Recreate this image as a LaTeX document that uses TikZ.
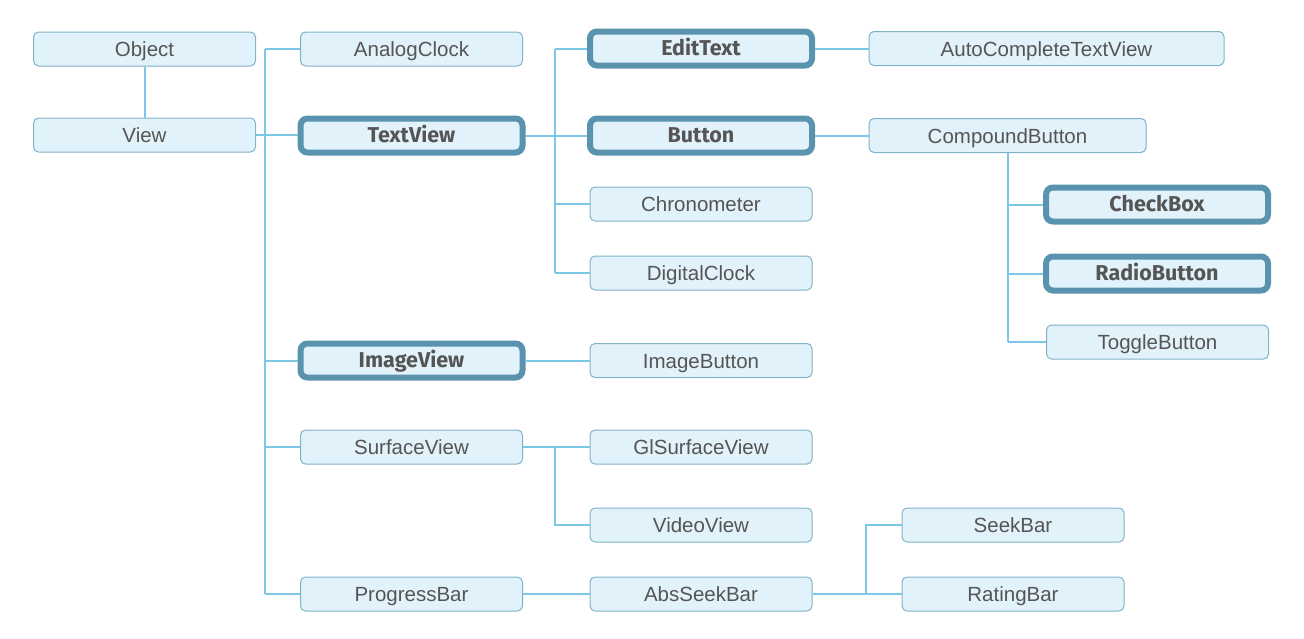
\documentclass[tikz,border=0pt]{standalone}
\usepackage{fontspec}
\setmainfont{Liberation Sans}
\newfontfamily\boldfam{Fira Sans}
\definecolor{boxfill}{HTML}{E2F2FA}
\definecolor{thinline}{HTML}{80B2C8}
\definecolor{thickline}{HTML}{5A93AE}
\definecolor{conn}{HTML}{7CC6E6}
\definecolor{txt}{HTML}{555555}
\begin{document}
\begin{tikzpicture}[x=1pt,y=-1pt,
  cls/.style={draw=thinline,line width=1pt,fill=boxfill,rounded corners=5pt,
    minimum width=222pt,minimum height=34pt,inner sep=0pt,text=txt,
    text height=17pt,text depth=2pt,
    font=\fontsize{20.5}{22}\selectfont},
  key/.style={cls,draw=thickline,line width=6pt,rounded corners=7pt,
    text height=17pt,text depth=3pt,
    font=\boldfam\bfseries\fontsize{21.5}{23}\selectfont},
  link/.style={draw=conn,line width=2pt}]
\useasboundingbox (0,0) rectangle (1304,638);
% nodes
\node[cls] (object) at (144.5,49) {Object};
\node[cls] (view) at (144.5,135) {View};
\node[cls] (analog) at (411.5,49) {AnalogClock};
\node[key] (textview) at (411.5,135.5) {TextView};
\node[key] (imageview) at (411.5,360.5) {ImageView};
\node[cls] (surface) at (411.5,447) {SurfaceView};
\node[cls] (progress) at (411.5,594) {ProgressBar};
\node[key] (edittext) at (701,48.5) {EditText};
\node[key] (button) at (701,135.5) {Button};
\node[cls] (chrono) at (701,204) {Chronometer};
\node[cls] (digital) at (701,273) {DigitalClock};
\node[cls] (imagebutton) at (701,360.5) {ImageButton};
\node[cls] (glsurface) at (701,447) {GlSurfaceView};
\node[cls] (video) at (701,525) {VideoView};
\node[cls] (absseek) at (701,594) {AbsSeekBar};
\node[cls,minimum width=355pt] (autocomplete) at (1046.5,48.5) {AutoCompleteTextView};
\node[cls,minimum width=277pt] (compound) at (1007.5,135.5) {CompoundButton};
\node[key] (checkbox) at (1157,204.5) {CheckBox};
\node[key] (radio) at (1157,273.5) {RadioButton};
\node[cls] (toggle) at (1157.5,342) {ToggleButton};
\node[cls] (seekbar) at (1013,525) {SeekBar};
\node[cls] (rating) at (1013,594) {RatingBar};
% junction coordinates
\coordinate (t1) at (265,49);
\coordinate (t1b) at (265,594);
\coordinate (t2) at (555,48.5);
\coordinate (t2b) at (555,273);
\coordinate (t3) at (555,447);
\coordinate (t3b) at (555,525);
\coordinate (t4) at (1008,342);
\coordinate (t5) at (866,525);
\coordinate (t5b) at (866,594);
\draw[link] (object.south) -- (view.north);
\draw[link] (t1) -- (t1b);
\draw[link] (view.east) -- (view.east -| textview.west);
\draw[link] (t1) -- (analog.west);
\draw[link] (t1 |- imageview) -- (imageview.west);
\draw[link] (t1 |- surface) -- (surface.west);
\draw[link] (t1b) -- (progress.west);
\draw[link] (t2) -- (t2b);
\draw[link] (textview.east) -- (button.west);
\draw[link] (t2) -- (edittext.west);
\draw[link] (t2 |- chrono) -- (chrono.west);
\draw[link] (t2b) -- (digital.west);
\draw[link] (edittext.east) -- (autocomplete.west);
\draw[link] (button.east) -- (compound.west);
\draw[link] (compound.south -| t4) -- (t4);
\draw[link] (t4 |- checkbox) -- (checkbox.west);
\draw[link] (t4 |- radio) -- (radio.west);
\draw[link] (t4) -- (toggle.west);
\draw[link] (imageview.east) -- (imagebutton.west);
\draw[link] (surface.east) -- (glsurface.west);
\draw[link] (t3) -- (t3b) -- (video.west);
\draw[link] (progress.east) -- (absseek.west);
\draw[link] (absseek.east) -- (t5b);
\draw[link] (t5b) -- (t5) -- (seekbar.west);
\draw[link] (t5b) -- (rating.west);
\end{tikzpicture}
\end{document}
